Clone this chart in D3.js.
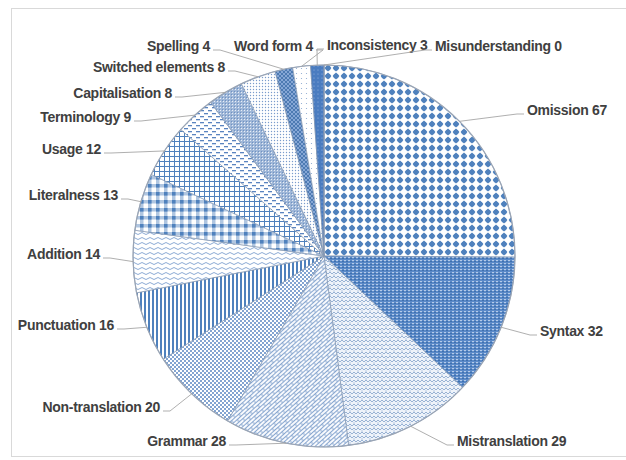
<!DOCTYPE html>
<html><head><meta charset="utf-8">
<script src="https://cdn.jsdelivr.net/npm/d3@7/dist/d3.min.js"></script>
<style>
html,body{margin:0;padding:0;background:#fff;}
svg{display:block;}
text{font-family:"Liberation Sans",Arial,sans-serif;font-weight:bold;font-size:14px;fill:#404040;letter-spacing:-0.3px;}
</style></head>
<body>
<script>
// ---- data ----
const categories = ["Omission","Syntax","Mistranslation","Grammar","Non-translation","Punctuation","Addition","Literalness","Usage","Terminology","Capitalisation","Switched elements","Spelling","Word form","Inconsistency","Misunderstanding"];
const values = [67,32,29,28,20,16,14,13,12,9,8,8,4,4,3,0];

// ---- layout (label positions: x = text edge, y = text centre) ----
const labelLayout = [
  {x:527,y:110,a:"start"},
  {x:540,y:331,a:"start"},
  {x:457,y:441,a:"start"},
  {x:226,y:441,a:"end"},
  {x:160,y:407,a:"end"},
  {x:114,y:325,a:"end"},
  {x:100,y:254,a:"end"},
  {x:118,y:195,a:"end"},
  {x:101,y:149,a:"end"},
  {x:131,y:117,a:"end"},
  {x:172,y:93,a:"end"},
  {x:225,y:67,a:"end"},
  {x:210,y:46,a:"end"},
  {x:313,y:46,a:"end"},
  {x:327,y:45,a:"start"},
  {x:435,y:46,a:"start"}
];

const W=626,H=460, cx=324, cy=256, R=191;
const blue="#4f81bd";

const svg=d3.select("body").append("svg").attr("width",W).attr("height",H);
svg.append("rect").attr("x",11.5).attr("y",8.5).attr("width",W).attr("height",H-12).attr("fill","#fff").attr("stroke","#d9d9d9");

const defs=svg.append("defs");
function pat(id,w,h,bg,draw,transform){
  const p=defs.append("pattern").attr("id",id).attr("patternUnits","userSpaceOnUse").attr("width",w).attr("height",h);
  if(transform) p.attr("patternTransform",transform);
  p.append("rect").attr("width",w).attr("height",h).attr("fill",bg);
  draw(p);
}
// Omission: diamond dots
pat("p0",8,8,"#fff",p=>{
  p.append("path").attr("d","M4,0.6 L7.4,4 L4,7.4 L0.6,4 Z").attr("fill",blue);
  p.append("circle").attr("cx",4).attr("cy",4).attr("r",2.6).attr("fill",blue);
});
// Syntax: fine horizontal stripes
pat("p1",4,3,"#5b8ac8",p=>{
  p.append("rect").attr("x",0).attr("y",1).attr("width",2).attr("height",1).attr("fill","#b5cbe9");
  p.append("rect").attr("x",2).attr("y",2).attr("width",2).attr("height",1).attr("fill","#3f70ae");
});
// Mistranslation: weave
pat("p2",8,8,"#eef3fa",p=>{
  p.append("path").attr("d","M0,2 L2,0 L4,2 L6,0 L8,2 M0,6 L2,4 L4,6 L6,4 L8,6").attr("fill","none").attr("stroke","#8faad0").attr("stroke-width",0.9);
  p.append("path").attr("d","M2,2 L2,4 M6,6 L6,8").attr("stroke","#a8bedc").attr("stroke-width",0.8);
});
// Grammar: diagonal bricks
pat("p3",10,6,"#f7f9fd",p=>{
  p.append("path").attr("d","M0,0.5 H10 M0,3.5 H10 M1,0.5 V3.5 M6,3.5 V6").attr("stroke","#6f93c4").attr("stroke-width",0.8).attr("fill","none");
},"rotate(-42)");
// Non-translation: small dense dots
pat("p4",4,4,"#fff",p=>{
  p.append("circle").attr("cx",1).attr("cy",1).attr("r",1).attr("fill","#5a86c2");
  p.append("circle").attr("cx",3).attr("cy",3).attr("r",1).attr("fill","#5a86c2");
});
// Punctuation: vertical stripes
pat("p5",4,4,"#fff",p=>{
  p.append("rect").attr("x",0).attr("y",0).attr("width",2).attr("height",4).attr("fill",blue);
});
// Addition: waves
pat("p6",8,5,"#fff",p=>{
  p.append("path").attr("d","M0,2.5 Q2,0.5 4,2.5 T8,2.5").attr("fill","none").attr("stroke","#7ea0cf").attr("stroke-width",0.9);
});
// Literalness: gingham
pat("p7",8,8,"#fff",p=>{
  p.append("rect").attr("x",0).attr("y",0).attr("width",8).attr("height",3.5).attr("fill",blue).attr("fill-opacity",0.45);
  p.append("rect").attr("x",0).attr("y",0).attr("width",3.5).attr("height",8).attr("fill",blue).attr("fill-opacity",0.45);
  p.append("rect").attr("x",0).attr("y",0).attr("width",3.5).attr("height",3.5).attr("fill",blue);
});
// Usage: grid
pat("p8",5,5,"#fff",p=>{
  p.append("path").attr("d","M0.5,0 V5 M0,0.5 H5").attr("stroke",blue).attr("stroke-width",1);
});
// Terminology: dashes
pat("p9",8,6,"#fff",p=>{
  p.append("rect").attr("x",0).attr("y",1).attr("width",4).attr("height",1.3).attr("fill","#5a84c0");
  p.append("rect").attr("x",4).attr("y",4).attr("width",4).attr("height",1.3).attr("fill","#5a84c0");
});
// Capitalisation: fine plaid
pat("p10",3,3,"#9fb7d8",p=>{
  p.append("rect").attr("x",1).attr("y",1).attr("width",1).attr("height",1).attr("fill","#e8eef7");
  p.append("rect").attr("x",0).attr("y",0).attr("width",1).attr("height",1).attr("fill","#6f92c2");
});
// Switched elements: fine dots
pat("p11",3,3,"#fff",p=>{
  p.append("circle").attr("cx",1.5).attr("cy",1.5).attr("r",0.7).attr("fill","#7a9ccc");
});
// Spelling: diagonal crosshatch
pat("p12",4,4,"#86a7d6",p=>{
  p.append("path").attr("d","M0,0 L4,4 M4,0 L0,4").attr("stroke","#3f6ea8").attr("stroke-width",0.8);
});
// Word form: sparse dots
pat("p13",5,5,"#fff",p=>{
  p.append("circle").attr("cx",2.5).attr("cy",2.5).attr("r",0.6).attr("fill","#8aa7d0");
});
// Inconsistency: solid with light dots
pat("p14",4,4,"#4a7cc0",p=>{
  p.append("circle").attr("cx",2).attr("cy",2).attr("r",0.5).attr("fill","#a9c2e6");
});
pat("p15",4,4,blue,p=>{});

const pie=d3.pie().sort(null).value(d=>d).startAngle(0).endAngle(2*Math.PI);
const arcs=pie(values);
const arc=d3.arc().innerRadius(0).outerRadius(R);
const edge=d3.arc().innerRadius(R).outerRadius(R);

const g=svg.append("g").attr("transform",`translate(${cx},${cy})`);
g.selectAll("path.slice").data(arcs).enter().append("path").attr("class","slice")
  .attr("d",arc).attr("fill",(d,i)=>`url(#p${i})`)
  .attr("stroke","#8799b3").attr("stroke-width",0.7);
g.append("circle").attr("r",R).attr("fill","none").attr("stroke","#9aa5b5").attr("stroke-width",1.2);

// leader lines & labels
const lab=svg.append("g");
arcs.forEach((d,i)=>{
  const L=labelLayout[i];
  const c=edge.centroid(d);
  const px=cx+c[0], py=cy+c[1];
  const ey=L.y+4;
  let ex, elx;
  if(L.a==="start"){ ex=L.x-3; elx=ex-7; } else { ex=L.x+3; elx=ex+7; }
  lab.append("path").attr("d",`M${px},${py} L${elx},${ey} L${ex},${ey}`)
    .attr("fill","none").attr("stroke","#a6a6a6").attr("stroke-width",0.9);
  lab.append("text").attr("x",L.x).attr("y",L.y+5).attr("text-anchor",L.a)
    .text(categories[i]+" "+values[i]);
});
</script>
</body></html>
